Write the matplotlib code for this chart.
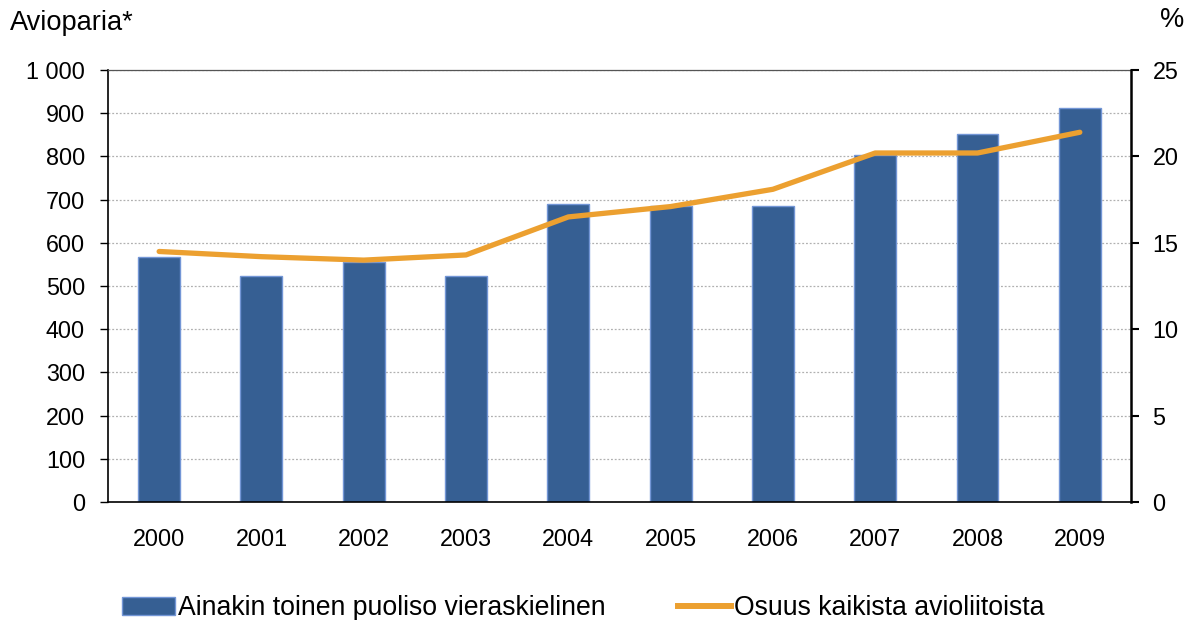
import matplotlib
matplotlib.use("Agg")
import matplotlib.pyplot as plt
from matplotlib.patches import Patch
from matplotlib.lines import Line2D

plt.rcParams['font.family'] = ['Liberation Sans', 'DejaVu Sans']

# data
years = ["2000", "2001", "2002", "2003", "2004", "2005", "2006", "2007", "2008", "2009"]
couples = [568, 523, 555, 523, 690, 686, 686, 803, 853, 913]
share_pct = [14.5, 14.2, 14.0, 14.3, 16.5, 17.1, 18.1, 20.2, 20.2, 21.4]

bar_label = "Ainakin toinen puoliso vieraskielinen"
line_label = "Osuus kaikista avioliitoista"

bar_col = "#365F93"
edge_col = "#7396D6"
line_col = "#ECA030"

fig = plt.figure(figsize=(11.92, 6.2), dpi=100)
ax = fig.add_axes([0.0906, 0.1903, 0.8582, 0.6967])
x = list(range(len(years)))

ax.bar(x, couples, width=0.41, color=bar_col, edgecolor=edge_col, linewidth=1.0, zorder=2)
ax.set_xlim(-0.5, len(years) - 0.5)
ax.set_ylim(0, 1000)
ax.set_yticks(range(0, 1001, 100))
ax.set_yticklabels(["0", "100", "200", "300", "400", "500", "600", "700", "800", "900", "1 000"])
ax.set_xticks(x)
ax.set_xticklabels(years)
ax.tick_params(axis='x', length=0, pad=19, labelsize=16.8)
ax.tick_params(axis='y', length=6, width=1, direction='out', pad=10.5, labelsize=16.8)
ax.yaxis.grid(True, color="#b0b0b0", linestyle=(0, (1.5, 1.5)), linewidth=0.9)
ax.set_axisbelow(True)
for s in ["left", "bottom"]:
    ax.spines[s].set_color("black")
    ax.spines[s].set_linewidth(1.2)
ax.spines["top"].set_color("#555555")
ax.spines["top"].set_linewidth(0.9)
ax.spines["right"].set_visible(False)

ax2 = ax.twinx()
ax2.plot(x, share_pct, color=line_col, linewidth=3.8, solid_capstyle='round', zorder=3)
ax2.set_ylim(0, 25)
ax2.set_yticks(range(0, 26, 5))
ax2.tick_params(axis='y', length=6, width=1.5, direction='out', pad=9.5, labelsize=16.8)
ax2.spines["right"].set_color("black")
ax2.spines["right"].set_linewidth(1.8)
for s in ["left", "top", "bottom"]:
    ax2.spines[s].set_visible(False)

fig.text(0.0084, 0.9516, "Avioparia*", fontsize=19.6, ha="left", va="baseline")
fig.text(0.9836, 0.957, "%", fontsize=19.6, ha="center", va="baseline")

handles = [Patch(facecolor=bar_col, edgecolor=edge_col, linewidth=1.0),
           Line2D([0], [0], color=line_col, linewidth=4.3)]
fig.legend(handles, [bar_label, line_label], loc="center left", ncol=2,
           bbox_to_anchor=(0.1021, 0.019), frameon=False, fontsize=19.2,
           borderpad=0, borderaxespad=0, handleheight=0.63,
           handlelength=1.99, handletextpad=0.12, columnspacing=2.72)

fig.savefig("out.png", dpi=100)
